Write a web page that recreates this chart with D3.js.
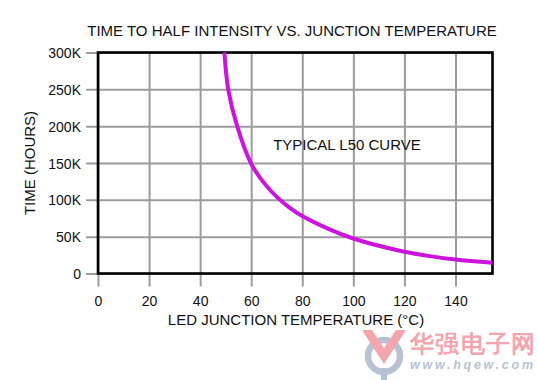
<!DOCTYPE html>
<html>
<head>
<meta charset="utf-8">
<script src="https://cdn.jsdelivr.net/npm/d3@7/dist/d3.min.js"></script>
<style>
  html, body { margin: 0; padding: 0; background: #fff; }
  svg { display: block; }
  text { font-family: "Liberation Sans", Arial, sans-serif; fill: #111; }
</style>
</head>
<body>
<svg id="chart" width="538" height="380"></svg>
<script>
// ---- data ----
const temperatures = [49.5, 51, 54.5, 60, 65, 70, 75, 80, 90, 100, 110, 120, 130, 140, 154.5];
const hoursL50     = [300000, 250000, 200000, 149000, 123000, 104000, 89500, 78000, 61000, 47500, 37600, 29500, 23600, 19000, 14500];
const xTicks = [0, 20, 40, 60, 80, 100, 120, 140];
const yTicks = [0, 50000, 100000, 150000, 200000, 250000, 300000];
const yTickLabels = ["0", "50K", "100K", "150K", "200K", "250K", "300K"];
const titleText = "TIME TO HALF INTENSITY VS. JUNCTION TEMPERATURE";
const xTitle = "LED JUNCTION TEMPERATURE (°C)";
const yTitle = "TIME (HOURS)";
const curveLabel = "TYPICAL L50 CURVE";

// ---- layout ----
const svg = d3.select("#chart");
const x = d3.scaleLinear().domain([0, 154.5]).range([98, 492.5]);
const y = d3.scaleLinear().domain([0, 300000]).range([273.5, 52.5]);
const gridColor = "#9c9c9c";

// gridlines (including ticks extending outside)
const gx = svg.append("g")
  .attr("transform", `translate(0,${y(0)})`)
  .call(d3.axisBottom(x).tickValues(xTicks).tickFormat(""));
gx.select(".domain").remove();
gx.selectAll(".tick line").attr("stroke", gridColor).attr("stroke-width", 2)
  .attr("y2", -(y(0) - y(300000))).attr("y1", 13);

const gy = svg.append("g")
  .attr("transform", `translate(${x(0)},0)`)
  .call(d3.axisLeft(y).tickValues(yTicks).tickFormat(""));
gy.select(".domain").remove();
gy.selectAll(".tick line").attr("stroke", gridColor).attr("stroke-width", 2)
  .attr("x2", x(154.5) - x(0)).attr("x1", -12);

// frame
svg.append("rect")
  .attr("x", x(0)).attr("y", y(300000))
  .attr("width", x(154.5) - x(0)).attr("height", y(0) - y(300000))
  .attr("fill", "none").attr("stroke", "#000").attr("stroke-width", 2.6);

// tick labels
const xa = svg.append("g")
  .attr("transform", `translate(0,${y(0)})`)
  .call(d3.axisBottom(x).tickValues(xTicks).tickSize(0).tickPadding(0));
xa.select(".domain").remove();
xa.selectAll("text").attr("font-size", 14).attr("font-family", "Liberation Sans, Arial, sans-serif")
  .attr("fill", "#111").attr("dy", null).attr("y", 32.5);

const ya = svg.append("g")
  .attr("transform", `translate(${x(0)},0)`)
  .call(d3.axisLeft(y).tickValues(yTicks).tickFormat((d, i) => yTickLabels[i]).tickSize(0).tickPadding(0));
ya.select(".domain").remove();
ya.selectAll("text").attr("font-size", 14).attr("font-family", "Liberation Sans, Arial, sans-serif")
  .attr("fill", "#111").attr("x", -17).attr("dy", "0.36em");

// curve
const pts = temperatures.map((t, i) => [t, hoursL50[i]]);
const line = d3.line().x(d => x(d[0])).y(d => y(d[1])).curve(d3.curveCatmullRom.alpha(0.5));
svg.append("path").datum(pts)
  .attr("d", line).attr("fill", "none")
  .attr("stroke", "#cc14dc").attr("stroke-width", 4).attr("stroke-linecap", "butt");

// texts
svg.append("text").attr("x", 292).attr("y", 36).attr("text-anchor", "middle")
  .attr("font-size", 15).text(titleText);
svg.append("text").attr("x", 296).attr("y", 325).attr("text-anchor", "middle")
  .attr("font-size", 15).text(xTitle);
svg.append("text").attr("transform", `translate(35,${(y(0) + y(300000)) / 2}) rotate(-90)`)
  .attr("text-anchor", "middle").attr("font-size", 15).text(yTitle);
svg.append("text").attr("x", x(68.6)).attr("y", 150)
  .attr("font-size", 15).text(curveLabel);

// watermark
const wm = svg.append("g");
wm.append("circle").attr("cx", 384).attr("cy", 356).attr("r", 16)
  .attr("fill", "none").attr("stroke", "#b7c3d2").attr("stroke-width", 6.5);
wm.append("rect").attr("x", 381).attr("y", 368).attr("width", 6).attr("height", 12).attr("fill", "#b7c3d2");
wm.append("path")
  .attr("d", "M362,330 L372,330 L384,348 L396,330 L406,330 L388,358 L384,364 L380,358 Z")
  .attr("fill", "#f3a6ae");
wm.append("text").attr("x", 410).attr("y", 352).attr("font-size", 24).attr("font-weight", "bold")
  .attr("font-family", "Noto Sans CJK SC, sans-serif").style("fill", "#f3a6ae")
  .attr("textLength", 125).text("华强电子网");
wm.append("text").attr("x", 410).attr("y", 368.5).attr("font-size", 12.5).attr("font-weight", "bold")
  .attr("font-style", "italic").attr("font-family", "DejaVu Sans, sans-serif").style("fill", "#b7c3d2")
  .attr("textLength", 123).text("www.hqew.com");
</script>
</body>
</html>
